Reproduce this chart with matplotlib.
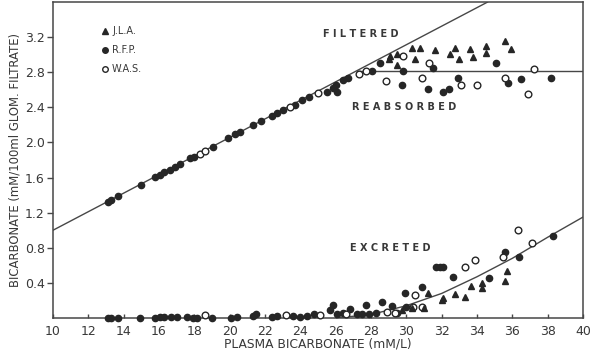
import numpy as np
import matplotlib
matplotlib.use("Agg")
import matplotlib.pyplot as plt

# curves
filtered_x = [10, 34.6]
filtered_y = [1.0, 3.6]
reabsorbed_x = [27.2, 40]
reabsorbed_y = [2.81, 2.81]
excreted_x = [26, 28, 30, 32, 34, 36, 38, 40]
excreted_y = [0.0, 0.04, 0.14, 0.28, 0.47, 0.68, 0.92, 1.15]

# R.F.P. (filled circles) - filtered / reabsorbed
rfp_top_x = [13.1, 13.3, 13.7, 15.0, 15.8, 16.05, 16.3, 16.6, 16.9, 17.2, 17.75, 18.0,
             19.05, 19.9, 20.3, 20.6, 21.3, 21.8, 22.4, 22.7, 23.0, 23.7, 24.1, 24.5,
             25.5, 25.85, 26.0, 26.1, 26.4, 26.7, 28.05, 28.5, 29.8, 29.75, 31.2, 31.5,
             32.1, 32.4, 32.9, 35.1, 35.75, 36.5, 38.2]
rfp_top_y = [1.32, 1.34, 1.39, 1.52, 1.61, 1.63, 1.66, 1.69, 1.72, 1.76, 1.82, 1.84,
             1.95, 2.05, 2.10, 2.12, 2.20, 2.25, 2.30, 2.34, 2.37, 2.43, 2.48, 2.52,
             2.58, 2.62, 2.66, 2.57, 2.71, 2.74, 2.82, 2.91, 2.82, 2.65, 2.61, 2.85,
             2.57, 2.61, 2.73, 2.91, 2.68, 2.72, 2.74]
# W.A.S. (open circles) - filtered / reabsorbed
was_top_x = [18.3, 18.6, 23.4, 25.0, 27.3, 27.7, 28.85, 29.8, 30.9, 31.3, 33.1,
             34.0, 35.6, 36.9, 37.2]
was_top_y = [1.87, 1.90, 2.40, 2.56, 2.78, 2.81, 2.70, 2.98, 2.74, 2.90, 2.66,
             2.66, 2.74, 2.55, 2.84]
# J.L.A. (triangles) - filtered / reabsorbed
jla_top_x = [29.0, 29.1, 29.5, 29.5, 30.3, 30.5, 30.8, 31.6, 32.5, 32.75, 33.0,
             33.6, 33.8, 34.5, 34.5, 35.6, 35.9]
jla_top_y = [2.95, 2.99, 3.01, 2.88, 3.08, 2.95, 3.08, 3.05, 3.01, 3.08, 2.95,
             3.07, 2.97, 3.10, 3.02, 3.16, 3.07]

# excreted
rfp_bot_x = [13.1, 13.3, 13.7, 14.9, 15.8, 16.05, 16.3, 16.7, 17.0, 17.6, 17.9, 18.15,
             19.0, 20.1, 20.4, 21.3, 21.5, 22.4, 22.7, 23.6, 24.0, 24.4, 24.8, 25.7,
             25.85, 26.1, 26.4, 26.8, 27.2, 27.5, 27.7, 27.9, 28.3, 28.6, 29.2, 29.5,
             29.9, 30.0, 30.9, 31.7, 31.9, 32.1, 32.65, 34.7, 35.6, 36.4, 38.3]
rfp_bot_y = [0.0, 0.0, 0.0, 0.0, 0.0, 0.01, 0.01, 0.01, 0.01, 0.01, 0.0, 0.0,
             0.0, 0.0, 0.01, 0.02, 0.05, 0.01, 0.02, 0.02, 0.01, 0.02, 0.05, 0.09,
             0.15, 0.05, 0.06, 0.10, 0.05, 0.05, 0.15, 0.05, 0.06, 0.18, 0.14, 0.06,
             0.28, 0.125, 0.35, 0.58, 0.58, 0.58, 0.47, 0.46, 0.75, 0.69, 0.94]
was_bot_x = [18.6, 23.2, 25.1, 26.6, 28.9, 29.35, 30.4, 30.5, 30.9, 33.3, 33.9,
             35.5, 36.3, 37.1]
was_bot_y = [0.04, 0.03, 0.03, 0.05, 0.07, 0.06, 0.12, 0.26, 0.125, 0.58, 0.66,
             0.69, 1.0, 0.85]
jla_bot_x = [29.75, 30.3, 31.0, 31.2, 32.0, 32.1, 32.75, 33.3, 33.65, 34.3, 34.3,
             35.6, 35.7]
jla_bot_y = [0.09, 0.11, 0.11, 0.28, 0.20, 0.23, 0.27, 0.24, 0.37, 0.40, 0.34,
             0.42, 0.53]

x_ticks = list(range(10, 41, 2))
y_ticks = [0.4, 0.8, 1.2, 1.6, 2.0, 2.4, 2.8, 3.2]

ink = "#262626"
line_c = "#474747"
text_c = "#383838"

fig = plt.figure(figsize=(5.9, 3.56), dpi=100)
ax = fig.add_axes([0.0898, 0.1067, 0.8983, 0.8875])

ax.plot(filtered_x, filtered_y, color=line_c, lw=1.0)
ax.plot(reabsorbed_x, reabsorbed_y, color=line_c, lw=1.0)
ax.plot(excreted_x, excreted_y, color=line_c, lw=1.0)

ms = 4.5
for xs, ys in [(rfp_top_x, rfp_top_y), (rfp_bot_x, rfp_bot_y)]:
    ax.plot(xs, ys, "o", ms=ms, color=ink, mec=ink, clip_on=False, zorder=3)
for xs, ys in [(was_top_x, was_top_y), (was_bot_x, was_bot_y)]:
    ax.plot(xs, ys, "o", ms=ms + 0.3, mfc="white", mec=ink, mew=1.0, clip_on=False, zorder=3)
for xs, ys in [(jla_top_x, jla_top_y), (jla_bot_x, jla_bot_y)]:
    ax.plot(xs, ys, "^", ms=ms + 0.3, color=ink, clip_on=False, zorder=3)

# legend drawn by hand like the original
ax.plot([12.95], [3.27], "^", ms=4, color=ink)
ax.plot([12.95], [3.05], "o", ms=4, color=ink)
ax.plot([12.95], [2.84], "o", ms=4, mfc="white", mec=ink, mew=1.0)
for yy, name in [(3.27, "J.L.A."), (3.05, "R.F.P."), (2.84, "W.A.S.")]:
    ax.text(13.35, yy, name, fontsize=7, color=text_c, va="center", ha="left")

lab = dict(fontsize=7, color=text_c, ha="center", va="center", fontweight="semibold")
ax.text(27.4, 3.24, "F I L T E R E D", **lab)
ax.text(29.9, 2.40, "R E A B S O R B E D", **lab)
ax.text(29.1, 0.80, "E X C R E T E D", **lab)

ax.set_xlim(10, 40)
ax.set_ylim(0, 3.6)
ax.set_xticks(x_ticks)
ax.set_yticks(y_ticks)
ax.set_xticklabels([str(t) for t in x_ticks])
ax.set_yticklabels([f"{t:.1f}" for t in y_ticks])
ax.tick_params(axis="both", colors=line_c, labelcolor=text_c, labelsize=9, width=1.0)
ax.tick_params(axis="y", length=4, direction="out", pad=2)
ax.tick_params(axis="x", length=3, direction="in", pad=5)
for s in ax.spines.values():
    s.set_color(line_c)
    s.set_linewidth(1.1)

ax.set_xlabel("PLASMA BICARBONATE (mM/L)", fontsize=8.8, color=text_c, labelpad=0)
ax.set_ylabel("BICARBONATE (mM/100ml GLOM. FILTRATE)", fontsize=8.4, color=text_c, labelpad=2)

fig.savefig("out.png", dpi=100, facecolor="white")
